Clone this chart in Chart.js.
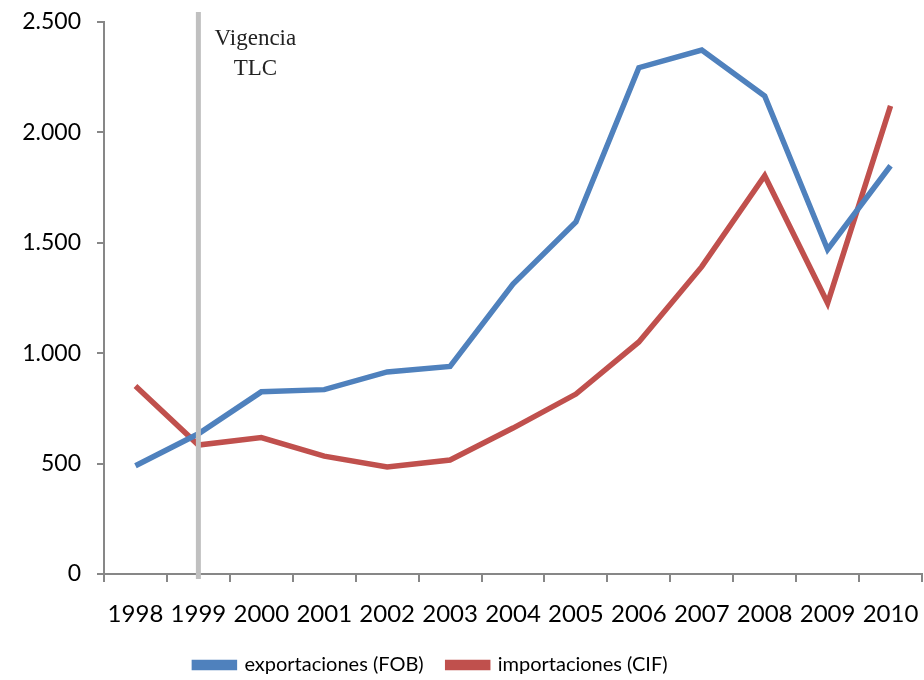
<!DOCTYPE html>
<html>
<head>
<meta charset="utf-8">
<script src="https://cdn.jsdelivr.net/npm/chart.js@4"></script>
<style>
  html, body { margin: 0; padding: 0; background: #fff; }
  #wrap { width: 924px; height: 680px; }
</style>
</head>
<body>
<div id="wrap"><canvas id="grafico"></canvas></div>
<script>
var anios = ["1998", "1999", "2000", "2001", "2002", "2003", "2004", "2005", "2006", "2007", "2008", "2009", "2010"];
var exportaciones = [490, 635, 825, 835, 915, 940, 1313, 1594, 2293, 2373, 2165, 1470, 1849];
var importaciones = [851, 584, 618, 534, 485, 516, 661, 815, 1051, 1392, 1804, 1227, 2120];
var marcaTLC = "1999";

var gris = "#878787";

// linea vertical gris + texto "Vigencia TLC"
var lineaTLC = {
    id: 'lineaTLC',
    afterLayout: function(chart) {
        // la leyenda va un poco a la izquierda
        chart.legend.left -= 30;
        chart.legend.right -= 30;
    },
    afterDatasetsDraw: function(chart) {
        var ctx = chart.ctx;
        var x = chart.scales.x.getPixelForValue(anios.indexOf(marcaTLC));
        ctx.save();
        ctx.strokeStyle = "#c0c0c0";
        ctx.lineWidth = 5;
        ctx.beginPath();
        ctx.moveTo(x, 12);
        ctx.lineTo(x, chart.chartArea.bottom + 5);
        ctx.stroke();
        ctx.fillStyle = "#222";
        ctx.font = "23px 'Liberation Serif'";
        ctx.textAlign = "center";
        ctx.textBaseline = "middle";
        ctx.fillText("Vigencia", x + 57, 39);
        ctx.fillText("TLC", x + 57, 69);
        ctx.restore();
    }
};

var ctx = document.getElementById("grafico");
var grafico = new Chart(ctx, {
    type: 'line',
    data: {
        labels: anios,
        datasets: [
            {
                label: "exportaciones (FOB)",
                data: exportaciones,
                borderColor: "#4f81bd",
                backgroundColor: "#4f81bd",
                borderWidth: 5.5,
                pointRadius: 0,
                tension: 0
            },
            {
                label: "importaciones (CIF)",
                data: importaciones,
                borderColor: "#c0504d",
                backgroundColor: "#c0504d",
                borderWidth: 5.5,
                pointRadius: 0,
                tension: 0
            }
        ]
    },
    options: {
        responsive: true,
        maintainAspectRatio: false,
        animation: false,
        layout: { padding: { top: 22, right: 2, left: 0, bottom: -5 } },
        plugins: {
            tooltip: { enabled: false },
            legend: {
                position: 'bottom',
                labels: {
                    color: "#000",
                    font: { family: "Lato", size: 20 },
                    boxWidth: 40,
                    boxHeight: 5,
                    padding: 24
                }
            }
        },
        scales: {
            x: {
                offset: true,
                grid: {
                    offset: true,
                    drawOnChartArea: false,
                    color: gris,
                    lineWidth: 2,
                    tickLength: 8
                },
                border: { color: gris, width: 2 },
                ticks: {
                    color: "#000",
                    font: { family: "Lato", size: 24 },
                    padding: 18,
                    maxRotation: 0,
                    autoSkip: false
                },
                afterFit: function(scale) {
                    scale.height = 57;
                    scale.paddingLeft = 0;
                    scale.paddingRight = 0;
                }
            },
            y: {
                min: 0,
                max: 2500,
                grid: {
                    drawOnChartArea: false,
                    color: gris,
                    lineWidth: 2,
                    tickLength: 7
                },
                border: { color: gris, width: 2 },
                ticks: {
                    stepSize: 500,
                    color: "#000",
                    font: { family: "Lato", size: 23 },
                    padding: 16,
                    callback: function(v) {
                        return v.toString().replace(/\B(?=(\d{3})+(?!\d))/g, ".");
                    }
                },
                afterFit: function(scale) {
                    scale.width = 104;
                    scale.paddingTop = 0;
                    scale.paddingBottom = 0;
                }
            }
        }
    },
    plugins: [lineaTLC]
});
</script>
</body>
</html>
